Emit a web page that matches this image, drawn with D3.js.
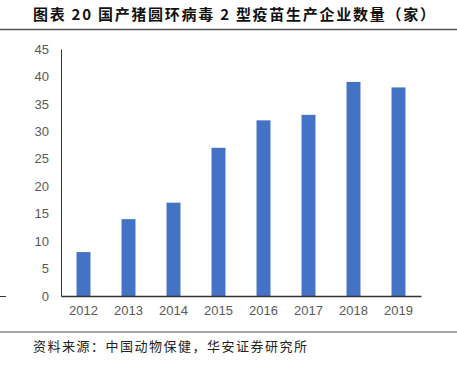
<!DOCTYPE html>
<html>
<head>
<meta charset="utf-8">
<script src="https://cdn.jsdelivr.net/npm/d3@7"></script>
<style>
  body { margin: 0; background: #fff; }
  svg text { font-family: "Liberation Sans", Arial, sans-serif; }
</style>
</head>
<body>
<div id="chart"></div>
<script>
var years = ["2012", "2013", "2014", "2015", "2016", "2017", "2018", "2019"];
var counts = [8, 14, 17, 27, 32, 33, 39, 38];
var yTicks = [0, 5, 10, 15, 20, 25, 30, 35, 40, 45];
var titleText = "图表 20 国产猪圆环病毒 2 型疫苗生产企业数量（家）";
var sourceText = "资料来源：中国动物保健，华安证券研究所";

function drawChart() {
  var width = 457, height = 367;
  var mLeft = 61, mRight = 421, mTop = 49, mBottom = 296;

  var svg = d3.select("#chart").append("svg")
    .attr("width", width)
    .attr("height", height);

  // title and rules
  svg.append("text")
    .attr("x", 33)
    .attr("y", 20)
    .attr("textLength", 402)
    .attr("lengthAdjust", "spacing")
    .style("font-family", "'Noto Sans CJK SC', sans-serif")
    .style("font-weight", "bold")
    .style("font-size", "15px")
    .attr("fill", "#111")
    .text(titleText);

  svg.append("line")
    .attr("x1", 0).attr("x2", width)
    .attr("y1", 29.5).attr("y2", 29.5)
    .attr("stroke", "#555").attr("stroke-width", 1.5);

  svg.append("line")
    .attr("x1", 0).attr("x2", width)
    .attr("y1", 332).attr("y2", 332)
    .attr("stroke", "#888").attr("stroke-width", 1.5);

  svg.append("line")
    .attr("x1", 0).attr("x2", 6)
    .attr("y1", 296.5).attr("y2", 296.5)
    .attr("stroke", "#333").attr("stroke-width", 1);

  svg.append("text")
    .attr("x", 33)
    .attr("y", 351)
    .attr("textLength", 274)
    .attr("lengthAdjust", "spacing")
    .style("font-family", "'Noto Sans CJK SC', sans-serif")
    .style("font-size", "13px")
    .attr("fill", "#222")
    .text(sourceText);

  var x = d3.scaleBand()
    .domain(years)
    .range([mLeft, mRight])
    .paddingInner(0.69)
    .paddingOuter(0.345);

  var y = d3.scaleLinear()
    .domain([0, 45])
    .range([mBottom, mTop]);

  svg.selectAll("rect.bar")
    .data(counts)
    .enter().append("rect")
    .attr("class", "bar")
    .attr("x", function (d, i) { return x(years[i]); })
    .attr("y", function (d) { return y(d); })
    .attr("width", x.bandwidth())
    .attr("height", function (d) { return y(0) - y(d); })
    .attr("fill", "#4472C4");

  var yAxis = svg.append("g")
    .attr("transform", "translate(" + mLeft + ",0)")
    .call(d3.axisLeft(y).tickValues(yTicks).tickSize(0).tickPadding(12));
  yAxis.select(".domain").attr("stroke", "#333").attr("stroke-width", 1);
  yAxis.selectAll("text").attr("fill", "#595959").style("font-size", "13px");

  var xAxis = svg.append("g")
    .attr("transform", "translate(0," + mBottom + ")")
    .call(d3.axisBottom(x).tickSize(0).tickPadding(10));
  xAxis.select(".domain").attr("stroke", "#333").attr("stroke-width", 1.5);
  xAxis.selectAll("text").attr("fill", "#595959").style("font-size", "13px");
}

drawChart();
</script>
</body>
</html>
